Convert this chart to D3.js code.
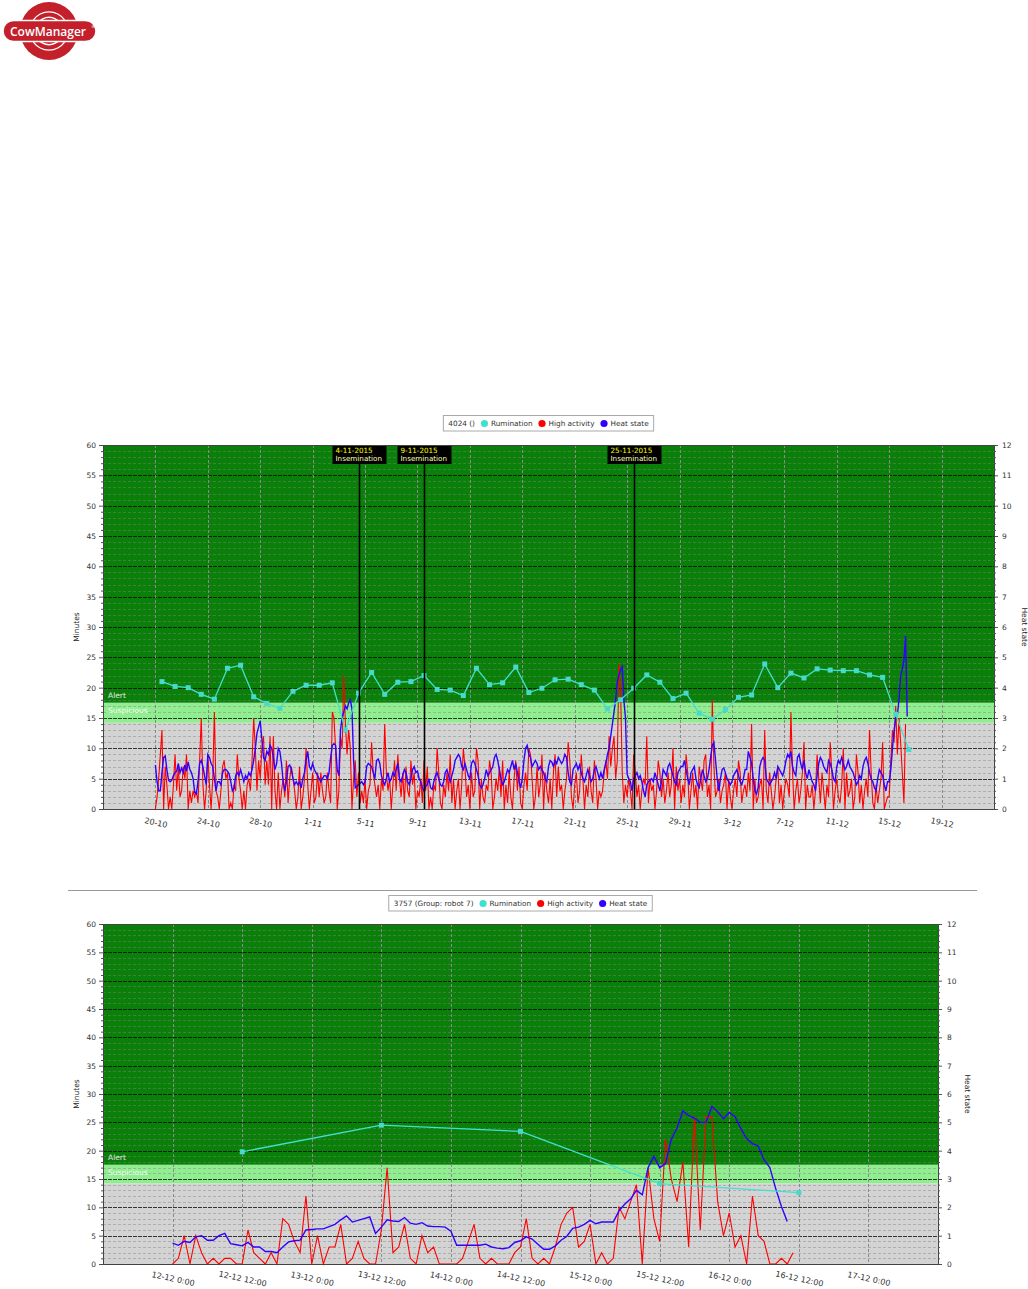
<!DOCTYPE html>
<html><head><meta charset="utf-8">
<script src="https://cdn.jsdelivr.net/npm/d3@7"></script>
<style>
body{margin:0;background:#fff;}
svg{display:block;}
text{font-family:"DejaVu Sans",Verdana,sans-serif;}
</style>
</head><body>
<svg id="c" width="1028" height="1289"></svg>
<script>
// ---------------- DATA ----------------
const legendNames = ["Rumination", "High activity", "Heat state"];
const chart1Title = "4024 ()";
const chart2Title = "3757 (Group: robot 7)";
const alertThreshold = 3.5;       // heat state units
const suspiciousThreshold = 2.84; // heat state units

// Chart 1 x tick labels (day-month, 2015)
const c1TickLabels = ["20-10","24-10","28-10","1-11","5-11","9-11","13-11","17-11","21-11","25-11","29-11","3-12","7-12","11-12","15-12","19-12"];
const c1DomainLabels = ["16-10", "23-12"];
// Chart 1 rumination, daily at 12:00 from 20-10
const c1RumStart = "20-10 12:00";
const c1Rumination = [21.0,20.2,20.0,18.9,18.1,23.2,23.7,18.5,17.4,16.6,19.4,20.4,20.4,20.8,13.0,19.1,22.5,18.9,20.9,21.0,
  22.0,19.7,19.6,18.7,23.2,20.5,20.8,23.4,19.2,19.9,21.3,21.4,20.5,19.6,16.5,18.0,19.9,22.1,20.9,18.2,
  19.1,15.8,14.8,16.4,18.4,18.8,23.9,20.0,22.4,21.6,23.1,22.9,22.8,22.8,22.1,21.7,15.6,9.8];
// Chart 1 high activity (minutes), every 3 hours from 20-10 0:00
const c1ActStart = "20-10 0:00";
const c1HighActivity = [
  0,2,5,9,13,0,7,4,  0,2,0,4,9,3,7,2,  3,7,5,9,0,3,1,3,  2,3,1,8,15,4,0,3,  9,4,0,5,16,3,2,0,
  3,7,8,5,6,0,1,0,  4,3,9,5,3,0,3,0,  4,5,3,8,15,10,3,8,  5,10,12,4,8,4,12,0,  12,3,0,6,0,3,5,2,
  8,1,5,7,5,3,0,2,  7,0,2,5,10,4,0,3,  6,1,2,6,2,6,3,1,  2,6,3,1,16,15,10,0,  3,12,10,22,14,9,13,10,
  0,5,8,2,6,1,3,1,  5,0,3,4,11,6,4,2,  4,0,5,3,14,6,3,5,  0,4,8,3,9,5,2,6,  1,7,3,2,8,4,6,0,
  3,2,5,1,8,3,7,0,  2,0,4,3,10,6,1,0,  4,2,6,3,9,1,5,0,  3,5,0,4,10,7,2,4,  0,6,2,3,10,8,0,5,
  2,1,4,3,8,6,0,2,  5,3,7,2,8,0,4,1,  6,2,0,5,8,3,7,1,  0,4,6,3,10,9,5,0,  2,7,2,4,9,0,6,3,
  1,5,0,6,9,2,7,3,  4,0,3,5,11,8,2,0,  4,6,1,3,9,5,0,4,  2,7,3,1,8,5,0,3,  2,3,6,8,5,12,7,10,
  12,5,8,24,20,6,1,4,  2,5,3,0,9,6,2,4,  0,3,5,4,12,1,5,3,  4,0,3,8,6,2,5,1,  3,6,2,4,10,0,7,3,
  5,1,4,2,9,6,0,3,  6,2,4,0,7,5,3,8,  9,2,4,0,18,7,2,3,  5,1,3,4,6,0,5,2,  0,3,5,2,8,6,1,3,
  4,2,6,3,14,0,5,1,  2,4,5,0,13,3,1,6,  3,0,2,5,7,1,4,0,  3,5,4,2,16,6,0,3,  5,1,3,6,11,0,4,2,
  2,4,0,3,9,5,1,6,  3,0,4,2,11,6,0,3,  5,2,1,4,10,0,6,2,  3,5,0,2,9,6,1,4,  0,3,5,2,13,6,1,0,
  4,1,3,5,11,0,1,2,  2,8,13,11,17,9,15,11,  6,1,14];
// Chart 1 heat state, every 3 hours from 20-10 0:00
const c1HeatState = [
  1.45,0.9,0.6,0.6,1.2,1.7,1.75,1.3,  0.95,0.9,0.95,1.1,1.2,1.25,1.5,1.2,  1.35,1.2,1.45,1.25,1.55,1.3,1.2,1.0,
  0.55,0.5,0.9,1.5,1.6,1.4,1.1,0.8,  1.8,1.7,1.5,1.4,1.0,0.6,0.9,0.9,  0.8,1.2,1.3,1.3,1.25,1.15,0.9,0.6,
  0.7,1.1,1.2,1.1,1.3,1.1,0.9,1.1,  1.0,1.2,1.1,1.3,1.6,2.0,2.5,2.7,  2.9,2.3,1.7,1.6,1.9,1.8,2.1,2.0,
  1.7,1.3,1.5,2.0,1.9,1.5,0.9,0.6,  0.9,1.4,1.45,1.3,1.0,0.8,0.9,0.8,  0.9,0.7,1.0,1.2,1.6,1.9,1.4,1.3,
  1.5,1.3,1.2,1.1,1.0,0.9,1.0,1.1,  1.1,1.0,1.2,1.7,2.1,2.15,2.1,1.3,  1.1,2.6,3.0,3.2,3.4,3.3,3.5,3.6,
  3.3,1.6,0.7,0.75,0.8,0.85,0.9,0.8,  0.9,1.4,1.5,1.45,1.4,1.2,1.0,1.6,  1.65,1.5,1.1,0.9,0.8,1.0,1.2,0.9,
  1.0,1.2,1.1,1.3,1.5,1.0,0.9,1.1,  1.3,1.2,0.9,0.8,1.0,1.3,1.4,1.2,  1.25,1.0,0.9,0.7,0.6,0.75,0.8,1.0,
  0.7,0.65,0.9,1.1,1.2,1.0,0.8,0.75,  0.9,1.2,1.3,1.1,0.9,1.1,1.3,1.6,  1.7,1.8,1.7,1.4,1.3,1.5,1.3,1.1,
  1.0,1.5,1.6,1.5,1.3,1.1,0.8,0.7,  0.8,1.0,1.3,1.1,1.2,1.3,1.4,1.7,  1.8,1.6,1.3,1.0,0.8,0.9,1.1,1.3,
  1.2,1.4,1.6,1.3,1.5,1.2,0.9,0.7,  1.0,1.6,2.0,2.1,1.8,1.7,1.4,1.5,  1.6,1.5,1.3,1.4,1.3,1.2,1.0,0.9,
  1.4,1.6,1.55,1.4,1.6,1.5,1.7,1.6,  1.5,1.6,1.8,1.7,1.2,0.9,0.8,1.3,  1.4,1.5,1.3,1.45,1.2,1.0,0.9,1.1,
  1.3,1.1,0.9,1.0,1.3,1.4,1.2,1.0,  1.2,1.0,1.3,1.5,1.8,2.0,2.4,2.8,  3.2,3.6,4.2,4.4,4.6,4.7,3.6,3.0,
  1.15,1.0,0.9,0.6,1.0,1.1,1.2,1.0,  1.1,0.9,0.6,0.4,0.8,0.9,0.95,1.0,  0.9,1.2,1.0,0.8,0.6,0.9,1.3,1.2,
  1.1,1.4,1.5,1.3,1.1,0.9,0.8,1.2,  1.3,1.4,1.4,1.6,1.3,1.0,0.8,1.2,  1.3,1.4,1.0,0.8,0.7,1.0,1.3,1.1,
  0.9,1.0,1.3,1.7,2.1,2.2,1.6,1.0,  0.6,1.0,1.3,1.35,1.2,1.0,0.9,0.8,  0.9,1.1,1.2,1.3,1.1,0.9,0.8,1.0,
  1.3,1.3,1.9,1.7,1.5,1.0,0.6,0.5,  0.7,1.4,1.6,1.7,1.6,1.0,0.9,0.8,  0.9,1.0,1.2,1.0,1.4,1.3,1.2,1.1,
  1.3,1.6,1.8,1.7,1.9,1.4,1.2,1.1,  1.7,1.8,1.5,1.3,1.6,1.2,1.0,1.3,  1.1,0.9,0.8,0.6,1.1,1.5,1.7,1.6,
  1.4,1.3,1.2,1.6,1.5,1.3,1.0,0.9,  1.4,1.6,1.5,1.7,1.5,1.3,1.4,1.6,  1.4,1.3,1.2,1.0,0.8,0.9,1.1,1.0,
  1.4,1.6,1.7,1.5,1.2,1.0,0.9,0.7,  0.6,1.0,1.3,1.2,1.1,0.8,0.6,0.9,  0.9,1.3,2.0,2.6,3.0,3.1,3.6,4.4,
  4.6,4.9,5.7,3.05];
// Chart 1 inseminations
const c1InsemDates = ["4-11 12:00", "9-11 12:00", "25-11 12:00"];
const c1InsemLabels = ["4-11-2015", "9-11-2015", "25-11-2015"];
const inseminationText = "Insemination";

// Chart 2 x tick labels
const c2TickLabels = ["12-12 0:00","12-12 12:00","13-12 0:00","13-12 12:00","14-12 0:00","14-12 12:00","15-12 0:00","15-12 12:00","16-12 0:00","16-12 12:00","17-12 0:00"];
const c2DomainLabels = ["11-12 12:00", "17-12 12:00"];
// Chart 2 rumination, daily at 12:00 from 12-12
const c2RumStart = "12-12 12:00";
const c2Rumination = [19.8, 24.5, 23.4, 14.2, 12.6];
// Chart 2 high activity (minutes), hourly from 12-12 0:00
const c2ActStart = "12-12 0:00";
const c2HighActivity = [
  0,1,5,0,5,2,0,1,0,1,  1,0,0,6,2,1,0,2,0,8,  7,4,2,12,0,5,0,3,3,7,  0,1,4,1,0,0,6,17,2,3,
  7,1,0,5,2,3,0,0,0,0,  1,4,7,1,0,1,0,0,0,2,  3,8,1,0,1,0,3,7,9,10,  3,4,7,0,2,0,1,10,8,11,
  14,0,17,8,4,22,15,11,18,3,  26,6,26,26,11,5,9,3,5,0,  12,5,4,0,0,1,0,2];
// Chart 2 heat state, hourly from 12-12 0:00
const c2HeatState = [
  0.74,0.66,0.8,0.76,0.96,1.0,0.84,0.84,1.0,1.08,  0.72,0.68,0.64,0.76,0.6,0.6,0.44,0.44,0.4,0.6,
  0.78,0.82,0.84,1.2,1.22,1.24,1.24,1.32,1.4,1.56,  1.7,1.48,1.54,1.6,1.66,1.08,1.3,1.56,1.52,1.5,
  1.64,1.44,1.4,1.46,1.34,1.32,1.32,1.3,1.16,0.66,  0.66,0.66,0.66,0.66,0.7,0.6,0.56,0.54,0.58,0.76,
  0.82,0.96,0.88,0.7,0.52,0.52,0.64,0.84,0.98,1.26,  1.3,1.4,1.54,1.42,1.48,1.48,1.48,1.88,2.12,2.3,
  2.6,2.44,3.4,3.8,3.4,3.54,4.4,4.8,5.4,5.24,  5.15,5.0,5.0,5.56,5.37,5.13,5.35,5.2,4.78,4.43,
  4.25,4.16,3.67,3.4,2.67,2.03,1.5];

// ---------------- DRAWING ----------------
const YEAR = 2015;
function parseDM(s) {
  const [dm, hm] = s.split(" ");
  const [d, m] = dm.split("-").map(Number);
  let h = 0, mi = 0;
  if (hm) [h, mi] = hm.split(":").map(Number);
  return new Date(YEAR, m - 1, d, h, mi);
}
const COL = {dark:"#0a800a", light:"#90ee90", grey:"#d3d3d3", rum:"#40e0d0", act:"#ff0000", heat:"#3300ff"};
const svg = d3.select("#c");

function drawLogo() {
  const g = svg.append("g");
  g.append("circle").attr("cx", 49).attr("cy", 31).attr("r", 29).attr("fill", "#c3202b");
  const arc = d3.arc();
  [[13, 14.4], [18.5, 19.8]].forEach(([r0, r1]) => {
    [0, Math.PI].forEach(a => {
      g.append("path").attr("transform", "translate(49,31)")
        .attr("d", arc({innerRadius: r0, outerRadius: r1, startAngle: a - 0.95, endAngle: a + 0.95}))
        .attr("fill", "#fff");
    });
  });
  g.append("rect").attr("x", 3).attr("y", 20.5).attr("width", 93).attr("height", 21).attr("rx", 10.5)
    .attr("fill", "#c3202b").attr("stroke", "#fff").attr("stroke-width", 1.5);
  g.append("text").attr("x", 48).attr("y", 35.5).attr("text-anchor", "middle").attr("fill", "#fff")
    .attr("font-size", 12).style("font-family", "'Open Sans',sans-serif").attr("font-weight", 600).text("CowManager");
  g.append("text").attr("x", 91).attr("y", 28).attr("font-size", 5).attr("fill", "#fff").text("®");
}

function drawChart(o) {
  const g = svg.append("g");
  const x = d3.scaleTime().domain(o.domain.map(parseDM)).range([o.left, o.right]);
  const y = d3.scaleLinear().domain([0, 60]).range([o.bottom, o.top]);
  const yR = d3.scaleLinear().domain([0, 12]).range([o.bottom, o.top]);
  const W = o.right - o.left;

  // bands
  g.append("rect").attr("x", o.left).attr("y", o.top).attr("width", W)
    .attr("height", yR(alertThreshold) - o.top).attr("fill", COL.dark);
  g.append("rect").attr("x", o.left).attr("y", yR(alertThreshold)).attr("width", W)
    .attr("height", yR(suspiciousThreshold) - yR(alertThreshold)).attr("fill", COL.light);
  g.append("rect").attr("x", o.left).attr("y", yR(suspiciousThreshold)).attr("width", W)
    .attr("height", o.bottom - yR(suspiciousThreshold)).attr("fill", COL.grey);

  // horizontal grid
  const minor = d3.range(1, 60).filter(v => v % 5 !== 0);
  const major = d3.range(5, 60, 5);
  g.append("g").selectAll("line").data(minor).join("line")
    .attr("x1", o.left).attr("x2", o.right).attr("y1", d => Math.round(y(d)) + 0.5).attr("y2", d => Math.round(y(d)) + 0.5)
    .attr("stroke", "#808080").attr("stroke-opacity", 0.45).attr("stroke-dasharray", "3,2");
  g.append("g").selectAll("line").data(major).join("line")
    .attr("x1", o.left).attr("x2", o.right).attr("y1", d => Math.round(y(d)) + 0.5).attr("y2", d => Math.round(y(d)) + 0.5)
    .attr("stroke", "#000").attr("stroke-opacity", 0.75).attr("stroke-dasharray", "4,1");

  // vertical grid
  const ticks = o.ticks.map(parseDM);
  g.append("g").selectAll("line").data(ticks).join("line")
    .attr("x1", d => Math.round(x(d)) + 0.5).attr("x2", d => Math.round(x(d)) + 0.5)
    .attr("y1", o.top).attr("y2", o.bottom)
    .attr("stroke", "#8a8a8a").attr("stroke-dasharray", "3,2");

  // band labels
  g.append("text").attr("x", o.left + 5).attr("y", yR(alertThreshold) - 4.5).attr("font-size", 7.5)
    .attr("fill", "#e6e6e6").text("Alert");
  g.append("text").attr("x", o.left + 5).attr("y", yR(alertThreshold) + 10.5).attr("font-size", 7.5)
    .attr("fill", "#f4fff4").text("Suspicious");

  // series
  const actT = parseDM(o.actStart);
  const line = d3.line();
  g.append("path").attr("fill", "none").attr("stroke", COL.act).attr("stroke-width", 1.1)
    .attr("d", line(o.act.map((v, i) => [x(d3.timeHour.offset(actT, i * o.step)), y(v)])));
  g.append("path").attr("fill", "none").attr("stroke", COL.heat).attr("stroke-width", 1.4)
    .attr("d", line(o.heat.map((v, i) => [x(d3.timeHour.offset(actT, i * o.step)), yR(v)])));
  const rumT = parseDM(o.rumStart);
  const rumPts = o.rum.map((v, i) => [x(d3.timeHour.offset(rumT, i * 24)), y(v)]);
  g.append("path").attr("fill", "none").attr("stroke", COL.rum).attr("stroke-width", 1.3).attr("d", line(rumPts));
  g.append("g").selectAll("rect").data(rumPts).join("rect")
    .attr("x", d => d[0] - 2.5).attr("y", d => d[1] - 2.5).attr("width", 5).attr("height", 5)
    .attr("fill", "#48d8cc");

  // inseminations
  (o.insem || []).forEach((s, i) => {
    const xi = Math.round(x(parseDM(s))) + 0.5;
    g.append("line").attr("x1", xi).attr("x2", xi).attr("y1", o.top).attr("y2", o.bottom)
      .attr("stroke", "#000").attr("stroke-width", 1.6);
    g.append("rect").attr("x", xi - 27).attr("y", o.top).attr("width", 54).attr("height", 19).attr("fill", "#000");
    g.append("text").attr("x", xi - 24).attr("y", o.top + 7.5).attr("font-size", 7.2).attr("fill", "#ffff00").text(o.insemLabels[i]);
    g.append("text").attr("x", xi - 24).attr("y", o.top + 15.5).attr("font-size", 7.2).attr("fill", "#ffffb0").text(inseminationText);
  });

  // axes
  const axL = d3.axisLeft(y).tickValues(major.concat([0, 60])).tickSize(4).tickPadding(3);
  g.append("g").attr("transform", `translate(${o.left},0)`).call(axL);
  const axLm = d3.axisLeft(y).tickValues(minor).tickSize(2).tickFormat("");
  g.append("g").attr("transform", `translate(${o.left},0)`).call(axLm);
  const axR = d3.axisRight(yR).tickValues(d3.range(0, 13)).tickSize(4).tickPadding(o.rpad);
  g.append("g").attr("transform", `translate(${o.right},0)`).call(axR);
  const axRm = d3.axisRight(y).tickValues(minor).tickSize(2).tickFormat("");
  g.append("g").attr("transform", `translate(${o.right},0)`).call(axRm);
  const axB = d3.axisBottom(x).tickValues(ticks).tickSize(0).tickFormat((d, i) => o.ticks[i]);
  const gB = g.append("g").attr("transform", `translate(0,${o.bottom})`).call(axB);
  g.selectAll(".domain").attr("stroke", "#444");
  g.selectAll(".tick line").attr("stroke", "#555");
  g.selectAll(".tick text").attr("font-size", 7.5).attr("fill", "#333").style("font-family", "'DejaVu Sans',Verdana,sans-serif");
  gB.selectAll("text").attr("dy", null).attr("y", 0).attr("font-size", 8)
    .attr("transform", `translate(0,${o.xlab}) rotate(12)`).attr("dominant-baseline", "middle");
  g.append("line").attr("x1", o.left).attr("x2", o.right).attr("y1", o.top + 0.5).attr("y2", o.top + 0.5).attr("stroke", "#444");

  // axis titles
  g.append("text").attr("transform", `translate(${o.left - 24},${(o.top + o.bottom) / 2}) rotate(-90)`)
    .attr("text-anchor", "middle").attr("font-size", 7.5).attr("fill", "#222").text("Minutes");
  g.append("text").attr("transform", `translate(${o.right + o.rtitle},${(o.top + o.bottom) / 2}) rotate(90)`)
    .attr("text-anchor", "middle").attr("font-size", 7.5).attr("fill", "#222").text("Heat state");

  // legend
  const lg = g.append("g");
  const box = lg.append("rect").attr("fill", "#fff").attr("stroke", "#aaa");
  const fs = 7.3;
  let cx = 0;
  const t0 = lg.append("text").attr("x", cx).attr("y", 0).attr("font-size", fs).attr("fill", "#333").text(o.title);
  cx += t0.node().getComputedTextLength() + 6;
  const cols = [COL.rum, COL.act, COL.heat];
  legendNames.forEach((n, i) => {
    lg.append("circle").attr("cx", cx + 3.5).attr("cy", -2.5).attr("r", 3.6).attr("fill", cols[i]);
    const t = lg.append("text").attr("x", cx + 10).attr("y", 0).attr("font-size", fs).attr("fill", "#333").text(n);
    cx += 10 + t.node().getComputedTextLength() + 6;
  });
  const lw = cx - 6;
  const lx = (o.left + o.right) / 2 - lw / 2;
  lg.attr("transform", `translate(${lx},${o.legY})`);
  box.attr("x", -5).attr("y", -10.5).attr("width", lw + 10).attr("height", 15.5);
}

drawLogo();
drawChart({left: 103, right: 994, top: 445, bottom: 809, domain: c1DomainLabels, ticks: c1TickLabels,
  actStart: c1ActStart, step: 3, act: c1HighActivity, heat: c1HeatState, rumStart: c1RumStart, rum: c1Rumination,
  insem: c1InsemDates, insemLabels: c1InsemLabels, title: chart1Title, legY: 426, xlab: 14, rpad: 4, rtitle: 28});
svg.append("line").attr("x1", 68).attr("x2", 977).attr("y1", 890.5).attr("y2", 890.5).attr("stroke", "#999");
drawChart({left: 103, right: 938, top: 924, bottom: 1264, domain: c2DomainLabels, ticks: c2TickLabels,
  actStart: c2ActStart, step: 1, act: c2HighActivity, heat: c2HeatState, rumStart: c2RumStart, rum: c2Rumination,
  insem: [], insemLabels: [], title: chart2Title, legY: 906, xlab: 15, rpad: 5, rtitle: 27});
</script>
</body></html>
